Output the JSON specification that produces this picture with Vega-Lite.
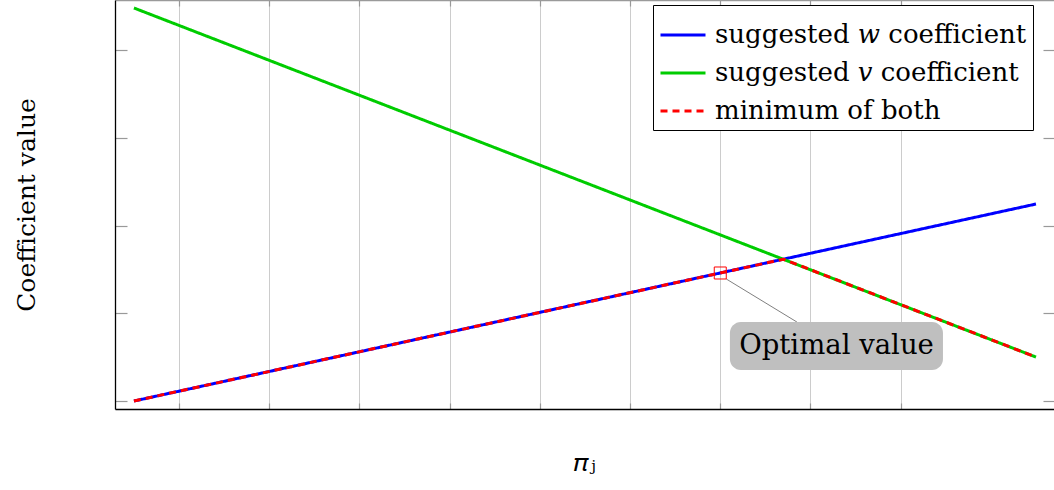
{
  "$schema": "https://vega.github.io/schema/vega-lite/v6.json",
  "width": 939,
  "height": 409,
  "autosize": {"type": "none"},
  "padding": {"left": 115, "top": 0, "right": 0, "bottom": 81},
  "config": {
    "view": {"stroke": null},
    "font": "DejaVu Serif",
    "axis": {"labels": false, "titleFontWeight": "normal", "titleFontSize": 25, "titleColor": "#000000", "titleFont": "DejaVu Serif"},
    "legend": {
      "title": null, "orient": "none", "legendX": 538, "legendY": 5,
      "symbolType": "stroke", "symbolSize": 2025, "symbolStrokeWidth": 3,
      "labelFont": "DejaVu Serif", "labelFontSize": 26, "labelColor": "#000000", "labelLimit": 600,
      "labelOffset": 8, "rowPadding": 1, "padding": 6,
      "strokeColor": "#000000", "fillColor": "#ffffff", "cornerRadius": 0
    }
  },
  "datasets": {
    "curves": [
      {"series": "suggested 𝑤 coefficient", "pi": 0, "coef": 0},
      {"series": "suggested 𝑤 coefficient", "pi": 10, "coef": 2.245},
      {"series": "suggested 𝑣 coefficient", "pi": 0, "coef": 4.479},
      {"series": "suggested 𝑣 coefficient", "pi": 10, "coef": 0.501},
      {"series": "minimum of both", "pi": 0, "coef": 0},
      {"series": "minimum of both", "pi": 7.2, "coef": 1.616},
      {"series": "minimum of both", "pi": 10, "coef": 0.501}
    ],
    "optimum": [
      {"pi": 6.5, "coef": 1.459, "pi_end": 6.566, "coef_end": 1.391, "pi_box": 7.35, "coef_box": 0.9,
       "box_left": 6.607, "box_right": 8.969, "box_top": 0.9, "box_bottom": 0.353,
       "label_pi": 7.789, "label_coef": 0.627, "label": "Optimal value"}
    ]
  },
  "resolve": {"axis": {"x": "independent", "y": "independent"}},
  "layer": [
    {
      "data": {"name": "curves"},
      "transform": [{"filter": "datum.series !== 'minimum of both'"}],
      "mark": {"type": "line", "strokeWidth": 3},
      "encoding": {
        "x": {
          "field": "pi", "type": "quantitative",
          "scale": {"domain": [-0.21, 10.2], "nice": false, "zero": false},
          "axis": {
            "orient": "bottom", "title": "𝜋ⱼ", "values": [0.5, 1.5, 2.5, 3.5, 4.5, 5.5, 6.5, 7.5, 8.5],
            "domainColor": "#000000", "domainWidth": 1.3,
            "tickColor": "#999999", "tickSize": -6, "tickWidth": 1.2,
            "grid": true, "gridColor": "#cccccc", "gridWidth": 1,
            "titleY": 61, "titleBaseline": "alphabetic"
          }
        },
        "y": {
          "field": "coef", "type": "quantitative",
          "scale": {"domain": [-0.091, 4.57], "nice": false, "zero": false},
          "axis": {
            "orient": "left", "title": "Coefficient value", "values": [0, 1, 2, 3, 4],
            "domainColor": "#000000", "domainWidth": 1.3,
            "tickColor": "#999999", "tickSize": -12, "tickWidth": 1.2,
            "grid": false, "titleX": -81, "titleBaseline": "alphabetic"
          }
        },
        "color": {
          "field": "series", "type": "nominal",
          "scale": {
            "domain": ["suggested 𝑤 coefficient", "suggested 𝑣 coefficient", "minimum of both"],
            "range": ["#0000ff", "#00cc00", "#ff0000"]
          }
        },
        "strokeDash": {
          "field": "series", "type": "nominal",
          "scale": {
            "domain": ["suggested 𝑤 coefficient", "suggested 𝑣 coefficient", "minimum of both"],
            "range": [[1, 0], [1, 0], [7, 5]]
          }
        }
      }
    },
    {
      "data": {"name": "curves"},
      "transform": [{"filter": "datum.series === 'minimum of both'"}],
      "mark": {"type": "line", "strokeWidth": 3},
      "encoding": {
        "x": {
          "field": "pi", "type": "quantitative",
          "axis": {
            "orient": "top", "title": null, "values": [0.5, 1.5, 2.5, 3.5, 4.5, 5.5, 6.5, 7.5, 8.5],
            "domainColor": "#9a9a9a", "domainWidth": 1.3,
            "tickColor": "#999999", "tickSize": -6, "tickWidth": 1.2, "grid": false
          }
        },
        "y": {
          "field": "coef", "type": "quantitative",
          "axis": {
            "orient": "right", "title": null, "values": [0, 1, 2, 3, 4],
            "domain": false, "tickColor": "#999999", "tickSize": -11, "tickWidth": 1.2, "grid": false
          }
        },
        "color": {"field": "series", "type": "nominal"},
        "strokeDash": {"field": "series", "type": "nominal"}
      }
    },
    {
      "data": {"name": "optimum"},
      "mark": {"type": "rule", "color": "#808080", "strokeWidth": 1},
      "encoding": {
        "x": {"field": "pi_end", "type": "quantitative", "axis": null},
        "y": {"field": "coef_end", "type": "quantitative", "axis": null},
        "x2": {"field": "pi_box"},
        "y2": {"field": "coef_box"}
      }
    },
    {
      "data": {"name": "optimum"},
      "mark": {"type": "point", "shape": "square", "filled": false, "size": 144, "color": "#ff0000", "strokeWidth": 1, "opacity": 1},
      "encoding": {
        "x": {"field": "pi", "type": "quantitative", "axis": null},
        "y": {"field": "coef", "type": "quantitative", "axis": null}
      }
    },
    {
      "data": {"name": "optimum"},
      "mark": {"type": "rect", "fill": "#bfbfbf", "cornerRadius": 11},
      "encoding": {
        "x": {"field": "box_left", "type": "quantitative", "axis": null},
        "x2": {"field": "box_right"},
        "y": {"field": "box_top", "type": "quantitative", "axis": null},
        "y2": {"field": "box_bottom"}
      }
    },
    {
      "data": {"name": "optimum"},
      "mark": {"type": "text", "font": "DejaVu Serif", "fontSize": 27.5, "color": "#000000", "align": "center", "baseline": "middle"},
      "encoding": {
        "x": {"field": "label_pi", "type": "quantitative", "axis": null},
        "y": {"field": "label_coef", "type": "quantitative", "axis": null},
        "text": {"field": "label"}
      }
    }
  ]
}
